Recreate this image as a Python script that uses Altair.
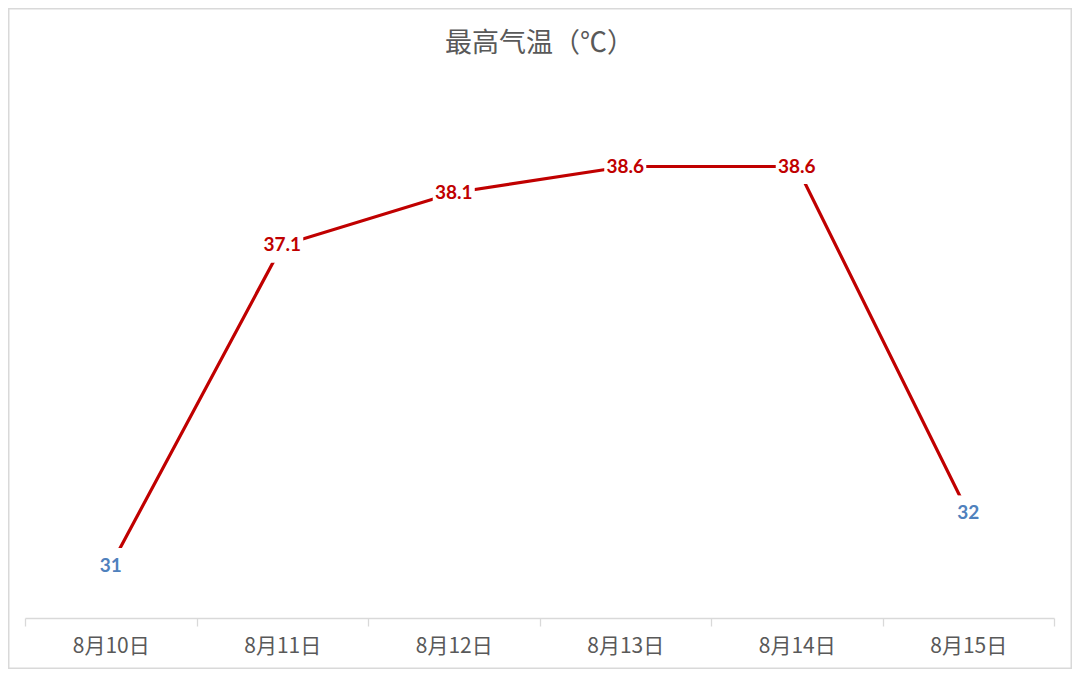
import altair as alt
import pandas as pd

dates = ["8月10日", "8月11日", "8月12日", "8月13日", "8月14日", "8月15日"]
temps = [31, 37.1, 38.1, 38.6, 38.6, 32]

df = pd.DataFrame({"date": dates, "temp": temps})

RED = "#C00000"
BLUE = "#4F81BD"
GRAY = "#595959"
LIGHT = "#D9D9D9"
W, H = 1029, 525

x_enc = alt.X(
    "date:N", sort=dates, bandPosition=0.5,
    scale=alt.Scale(type="band", paddingInner=0, paddingOuter=0),
    axis=alt.Axis(title=None, tickBand="extent", domainColor=LIGHT, tickColor=LIGHT,
                  tickSize=8, tickWidth=1.3, domainWidth=1.3,
                  labelFontSize=21, labelFont="Noto Sans CJK SC", labelColor=GRAY,
                  labelPadding=9, labelAngle=0, grid=False),
)
y_enc = alt.Y("temp:Q", scale=alt.Scale(domain=[30, 40], nice=False, zero=False), axis=None)

base = alt.Chart(df)

line = base.mark_line(color=RED, strokeWidth=3.2).encode(x=x_enc, y=y_enc)

long_box = "M-0.955,-0.8H0.955V0.8H-0.955Z"
short_box = "M-0.56,-0.8H0.56V0.8H-0.56Z"
boxes = base.mark_point(filled=True, color="white", opacity=1, strokeWidth=0, size=1936).encode(
    x=x_enc, y=y_enc,
    shape=alt.condition(alt.datum.temp > 35, alt.value(long_box), alt.value(short_box)),
)

labels = base.mark_text(font="Lato", fontWeight="bold", fontSize=19, baseline="middle").encode(
    x=x_enc, y=y_enc, text=alt.Text("temp:Q"),
    color=alt.condition(alt.datum.temp > 35, alt.value(RED), alt.value(BLUE)),
)

border = alt.Chart(pd.DataFrame({"a": [0]})).mark_rect(filled=False, stroke=LIGHT, strokeWidth=1.5).encode(
    x=alt.value(-16.25), x2=alt.value(W + 17.25), y=alt.value(-84.25), y2=alt.value(H + 50.25)
)

chart = alt.layer(border, line, boxes, labels).properties(
    width=W, height=H,
    title=alt.TitleParams("最高气温（℃）", font="Noto Sans CJK SC", fontSize=27, fontWeight="normal",
                          color=GRAY, anchor="middle", baseline="middle", offset=-63),
    padding={"left": 17, "top": 85, "right": 18, "bottom": 51},
    autosize=alt.AutoSizeParams(type="none"),
).configure(background="white").configure_view(stroke=None)

chart.save("out.html", embed_options={"renderer": "svg", "actions": False})
